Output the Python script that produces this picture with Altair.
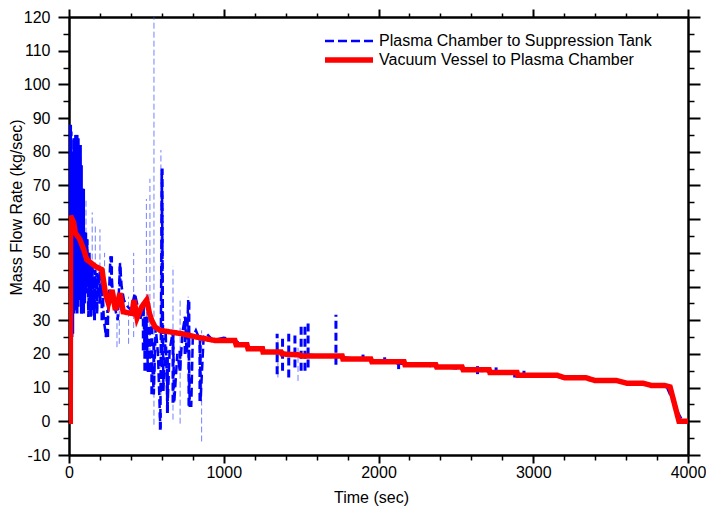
import altair as alt
import pandas as pd

SERIES = ["Plasma Chamber to Suppression Tank", "Vacuum Vessel to Plasma Chamber"]
FONT = "Liberation Sans"

# Red: Vacuum Vessel to Plasma Chamber
red_t = [0, 8, 10, 20, 30, 40, 70, 95, 115, 170, 213, 235, 255, 278, 300, 330, 350, 407, 420, 440,
         470, 502, 520, 534, 556, 588, 728, 825, 943, 1072, 1080, 1150, 1157, 1250, 1254, 1370, 1376,
         1490, 1500, 1765, 1770, 1950, 1957, 2165, 2171, 2370, 2376, 2540, 2547, 2715, 2720, 2895,
         2900, 3151, 3205, 3342, 3399, 3536, 3604, 3710, 3765, 3850, 3884, 3942, 4000]
red_v = [0, 0, 61, 60, 59, 56, 54, 51, 48, 46, 45, 38, 35, 39, 33, 38, 32.5, 32, 36, 30.7,
         34, 36, 32, 30, 28, 27, 26, 25, 24, 24, 22.7, 22.7, 21.5, 21.5, 20.6, 20.6, 20,
         19.7, 19.4, 19.4, 18.5, 18.5, 17.7, 17.7, 16.8, 16.8, 16.1, 16.1, 15.3, 15.3, 14.5, 14.5,
         13.7, 13.7, 12.9, 12.9, 12.1, 12.1, 11.3, 11.3, 10.6, 10.6, 10.2, 0, 0]

# Blue: Plasma Chamber to Suppression Tank (main trace)
blue_t = [0, 5, 10, 15, 20, 28, 35, 42, 50, 58, 65, 72, 80, 88, 95, 102, 110, 118, 125, 132, 140,
          150, 160, 170, 180, 190, 200, 213, 225, 240, 252, 268, 280, 290, 300, 315, 330, 340, 355,
          380, 400, 425, 440, 460, 480, 490, 500, 510, 540, 548, 560, 575, 590, 600, 610, 625, 636,
          650, 672, 680, 700, 717, 735, 750, 760, 770, 780, 790, 800, 820, 846, 850, 870, 890, 930,
          1000, 1072, 1157, 1254, 1376, 1770, 1957, 2171, 2376, 2547, 2720, 2900, 3151, 3205, 3342,
          3399, 3536, 3604, 3710, 3765, 3860, 3930, 3960, 4000]
blue_v = [0, 88, 30, 86, 25, 80, 35, 85, 33, 84, 36, 82, 32, 69, 34, 56, 38, 54, 31, 50, 33,
          46, 31, 45, 32, 44, 35, 45, 30, 25, 31, 49, 40, 38, 33, 30, 47, 40, 36,
          34, 33, 38, 35, 30, 34, 21, 31, 15, 15, 8, 28, 20, -2, 74.6, 9, 27, 3,
          21, 27, 5.5, 20, 15, 27, 31, 20, 36, 4.6, 4.6, 25, 27, 24, 6, 25, 26, 24,
          24.8, 24, 22, 21, 20.3, 19, 18, 17, 16.3, 15.5, 14.7, 14, 13.8, 13, 13,
          12.3, 12.3, 11.5, 11.5, 10.8, 10.5, 3, 0.5, 0]

# Dense early oscillation envelope
dense_t = [3, 10, 17, 24, 31, 38, 45, 52, 59, 66, 73, 80, 87, 94, 101, 108, 115, 122]
dense_lo = [26, 25, 25, 26, 32, 33, 33, 32, 34, 36, 36, 32, 33, 32, 35, 38, 40, 40]
dense_hi = [88, 88, 80, 78, 84, 84, 85, 85, 84, 80, 82, 76, 69, 69, 56, 56, 54, 50]

# Thick dashed oscillation bars
bar_t = [140, 150, 165, 180, 200, 213, 240, 250, 275, 330, 425, 480, 490, 505, 520, 535, 548, 590,
         602, 636, 672, 717, 750, 775, 846, 1345, 1380, 1420, 1460, 1500, 1525, 1545, 1725,
         1900, 2040, 2130, 2640, 2760, 2880, 2940]
bar_lo = [31, 33, 30, 32, 35, 30, 25, 25, 40, 40, 35, 21, 15, 15, 15, 8, 14, -2.5,
          9, 2.5, 5.5, 15, 20, 4.6, 6, 14, 15, 13, 16, 15, 15, 16, 16.8,
          18, 17.2, 15.5, 14, 14, 13, 13.5]
bar_hi = [46, 46, 45, 44, 45, 45, 31, 33, 49, 47, 38, 34, 31, 31, 28, 30, 24, 2.5,
          75, 21, 27, 21, 31, 36, 24, 26, 25, 26, 26, 29, 29, 29, 31.6,
          19.8, 19, 18, 16.5, 16, 14.5, 15]

# Thin excursions
spike_t = [110, 150, 170, 200, 230, 310, 325, 385, 418, 500, 523, 549, 594, 672, 718, 770, 857, 1350, 1480]
spike_lo = [45, 40, 40, 40, 38, 22, 23, 23, 25, 20, 20, -1, 5, 0.5, -0.7, 10, -6, 13, 12]
spike_hi = [66, 62, 58, 57, 50, 36, 35, 37, 50, 66, 72, 120, 80.5, 46, 36, 37, 27, 24, 22]

X_TICKS = list(range(0, 4001, 200))
Y_TICKS = list(range(-10, 121, 5))

red_df = pd.DataFrame({"t": red_t, "v": red_v, "series": SERIES[1]})
blue_df = pd.DataFrame({"t": blue_t, "v": blue_v, "series": SERIES[0]})
dense_df = pd.DataFrame({"t": dense_t, "lo": dense_lo, "hi": dense_hi})
bar_df = pd.DataFrame({"t": bar_t, "lo": bar_lo, "hi": bar_hi})
spike_df = pd.DataFrame({"t": spike_t, "lo": spike_lo, "hi": spike_hi})

xs = alt.Scale(domain=[0, 4000], nice=False, zero=False)
ys = alt.Scale(domain=[-10, 120], nice=False, zero=False)

x_major = "datum.value % 1000 === 0"
y_major = "datum.value % 10 === 0"

x_bottom = alt.Axis(
    orient="bottom", values=X_TICKS, title="Time (sec)",
    labelExpr=f"{x_major} ? '' + datum.value : ''",
    labelFlush=False, labelOverlap=False, labelFont=FONT, labelFontSize=16, labelPadding=1,
    tickSize={"condition": {"test": x_major, "value": 8}, "value": 5},
    tickWidth={"condition": {"test": x_major, "value": 2}, "value": 1.5},
    titleFont=FONT, titleFontSize=16, titleFontWeight="normal", titleColor="black",
    titleX=302, titleY=34,
)
y_left = alt.Axis(
    orient="left", values=Y_TICKS, title="Mass Flow Rate (kg/sec)",
    labelExpr=f"{y_major} ? '' + datum.value : ''",
    labelFlush=False, labelOverlap=False, labelFont=FONT, labelFontSize=16, labelPadding=8,
    tickSize={"condition": {"test": y_major, "value": 11}, "value": 6},
    tickWidth={"condition": {"test": y_major, "value": 2}, "value": 1.5},
    titleFont=FONT, titleFontSize=16, titleFontWeight="normal", titleColor="black",
    titleX=-45, titleY=190,
)
x_top = alt.Axis(
    orient="top", values=X_TICKS, title=None, labels=False,
    tickSize={"condition": {"test": x_major, "value": 8}, "value": 4},
    tickWidth={"condition": {"test": x_major, "value": 2}, "value": 1.5},
)
y_right = alt.Axis(
    orient="right", values=Y_TICKS, title=None, labels=False,
    tickSize={"condition": {"test": y_major, "value": 12}, "value": 6},
    tickWidth={"condition": {"test": y_major, "value": 2}, "value": 1.5},
)

# 48 px long stroke symbol drawn from a 10 px layout slot
leg = alt.Legend(
    title=None, orient="none", legendX=272, legendY=16,
    symbolType="M-4.8,0H4.8", symbolSize=100,
    labelFont=FONT, labelFontSize=16, labelColor="black", labelLimit=0,
    labelOffset=22, rowPadding=0, padding=0,
)
color_enc = alt.Color("series:N", scale=alt.Scale(domain=SERIES, range=["#0000ff", "#ff0000"]), legend=leg)
dash_enc = alt.StrokeDash("series:N", scale=alt.Scale(domain=SERIES, range=[[9, 4], [1, 0]]), legend=leg)
width_enc = alt.StrokeWidth("series:N", scale=alt.Scale(type="ordinal", domain=SERIES, range=[2.5, 5.5]), legend=leg)

dense = alt.Chart(dense_df).mark_rule(color="#0000ff", strokeWidth=3, clip=True).encode(
    x=alt.X("t:Q", scale=xs, axis=x_bottom),
    y=alt.Y("lo:Q", scale=ys, axis=y_left),
    y2="hi:Q",
)
bars = alt.Chart(bar_df).mark_rule(color="#0000ff", strokeWidth=3, strokeDash=[8, 4], clip=True).encode(
    x=alt.X("t:Q", scale=xs, axis=None),
    y=alt.Y("lo:Q", scale=ys, axis=None),
    y2="hi:Q",
)
spikes = alt.Chart(spike_df).mark_rule(color="#3a4cff", strokeWidth=1, strokeDash=[6, 3], opacity=0.7, clip=True).encode(
    x=alt.X("t:Q", scale=xs, axis=None),
    y=alt.Y("lo:Q", scale=ys, axis=None),
    y2="hi:Q",
)
blue = alt.Chart(blue_df).mark_line(clip=True).encode(
    x=alt.X("t:Q", scale=xs, axis=None),
    y=alt.Y("v:Q", scale=ys, axis=None),
    color=color_enc, strokeDash=dash_enc, strokeWidth=width_enc,
)
red = alt.Chart(red_df).mark_line(clip=True, strokeJoin="miter").encode(
    x=alt.X("t:Q", scale=xs, axis=x_top),
    y=alt.Y("v:Q", scale=ys, axis=y_right),
    color=color_enc, strokeDash=dash_enc, strokeWidth=width_enc,
)

chart = alt.layer(spikes, dense, bars, blue, red).properties(
    width=619, height=438,
    autosize=alt.AutoSizeParams(type="none"),
    padding={"left": 69, "top": 17, "right": 18, "bottom": 59},
    background="white",
).configure_axis(
    domainColor="black", domainWidth=2.5, tickColor="black", labelColor="black", grid=False,
).configure_view(strokeOpacity=0)

chart.save("out.html", embed_options={"renderer": "svg", "actions": False})
